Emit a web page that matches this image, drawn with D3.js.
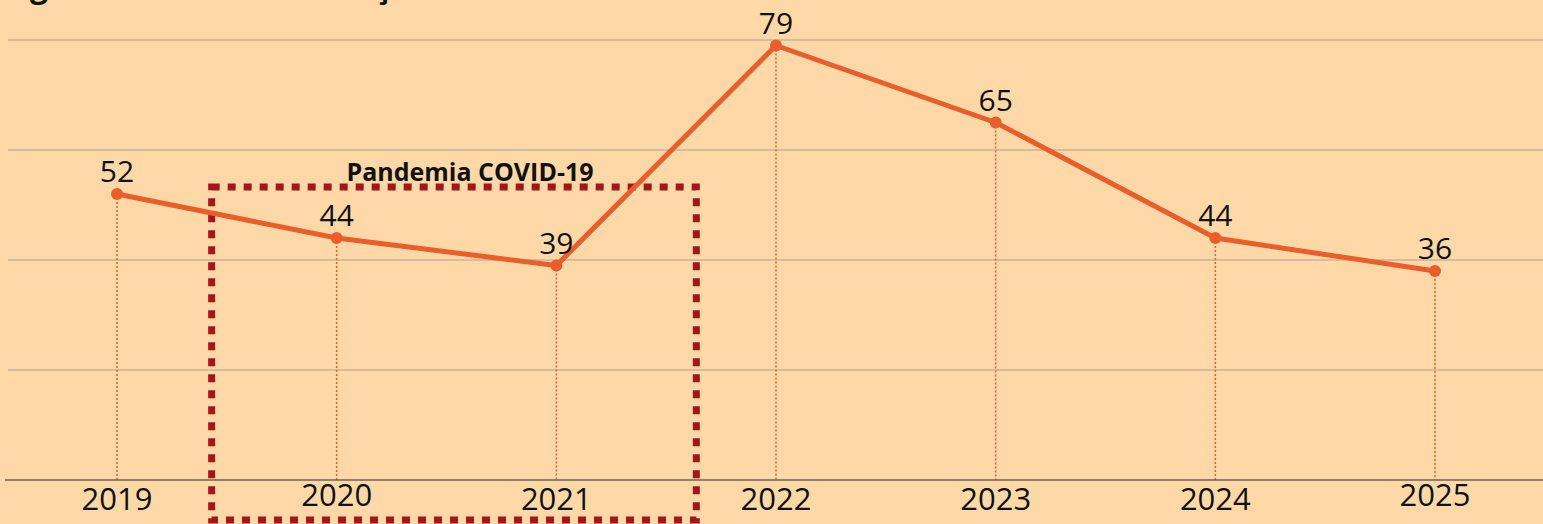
<!DOCTYPE html>
<html>
<head>
<meta charset="utf-8">
<script src="https://cdn.jsdelivr.net/npm/d3@7"></script>
<style>
  html, body { margin: 0; padding: 0; background: #fed9a7; overflow: hidden; }
  svg { display: block; }
</style>
</head>
<body>
<svg id="chart" width="1543" height="524"></svg>
<script>
// Data
const years = ['2019', '2020', '2021', '2022', '2023', '2024', '2025'];
const values = [52, 44, 39, 79, 65, 44, 38];          // plotted position
const valueLabels = ['52', '44', '39', '79', '65', '44', '36']; // as printed
const yTicks = [0, 20, 40, 60, 80];
const highlightYears = ['2020', '2021'];
const highlightLabel = 'Pandemia COVID-19';
const title = 'Agressões totais: evolução anual';

const W = 1543, H = 524;
const FONT = '"Open Sans", "Noto Sans", sans-serif';
const LINE = '#eb5e2b';
const BOX = '#a3161a';

const svg = d3.select('#chart');

svg.append('rect').attr('width', W).attr('height', H).attr('fill', '#fed9a7');

const x = d3.scalePoint().domain(years).range([117, 1435]);
const y = d3.scaleLinear().domain([0, 80]).range([480, 40]);

// Title (mostly cut off by the top edge)
svg.append('text')
    .attr('x', 8).attr('y', -3)
    .attr('font-family', FONT).attr('font-weight', 700).attr('font-size', 32)
    .attr('fill', '#111')
    .text(title);

// Gridlines
svg.append('g').selectAll('line')
    .data(yTicks.filter(d => d !== 0))
    .join('line')
    .attr('x1', 8).attr('x2', W)
    .attr('y1', d => y(d)).attr('y2', d => y(d))
    .attr('stroke', '#ad9f8a').attr('stroke-width', 1.2);

// Drop lines
svg.append('g').selectAll('line')
    .data(years)
    .join('line')
    .attr('x1', d => x(d)).attr('x2', d => x(d))
    .attr('y1', (d, i) => y(values[i])).attr('y2', y(0))
    .attr('stroke', LINE).attr('stroke-width', 1.5)
    .attr('stroke-dasharray', '2,2');

// Baseline
svg.append('line')
    .attr('x1', 5).attr('x2', W)
    .attr('y1', y(0)).attr('y2', y(0))
    .attr('stroke', '#6b6354').attr('stroke-width', 1.5);

// Year labels (a couple sit slightly higher in the original)
const yearNudge = { '2020': -4, '2025': -4 };
svg.append('g').selectAll('text')
    .data(years)
    .join('text')
    .attr('x', d => x(d))
    .attr('y', d => y(0) + 30 + (yearNudge[d] || 0))
    .attr('text-anchor', 'middle')
    .attr('font-family', FONT).attr('font-size', 31)
    .attr('fill', '#111')
    .text(d => d);

// Highlight box
const bx0 = x(highlightYears[0]) - 125;
const bx1 = x(highlightYears[1]) + 140;
svg.append('rect')
    .attr('x', bx0).attr('y', 187)
    .attr('width', bx1 - bx0).attr('height', 333)
    .attr('fill', 'none')
    .attr('stroke', BOX).attr('stroke-width', 7)
    .attr('stroke-dasharray', '8,8');

svg.append('text')
    .attr('x', (bx0 + bx1) / 2 + 16).attr('y', 181)
    .attr('text-anchor', 'middle')
    .attr('font-family', FONT).attr('font-weight', 700).attr('font-size', 25)
    .attr('fill', '#111')
    .text(highlightLabel);

// Line
const line = d3.line().x((d, i) => x(years[i])).y(d => y(d));
svg.append('path')
    .datum(values)
    .attr('d', line)
    .attr('fill', 'none')
    .attr('stroke', LINE).attr('stroke-width', 5)
    .attr('stroke-linejoin', 'round');

// Points
svg.append('g').selectAll('circle')
    .data(values)
    .join('circle')
    .attr('cx', (d, i) => x(years[i]))
    .attr('cy', d => y(d))
    .attr('r', 6)
    .attr('fill', LINE);

// Value labels
svg.append('g').selectAll('text')
    .data(values)
    .join('text')
    .attr('x', (d, i) => x(years[i]))
    .attr('y', d => y(d) - 12)
    .attr('text-anchor', 'middle')
    .attr('font-family', FONT).attr('font-size', 30)
    .attr('fill', '#111')
    .text((d, i) => valueLabels[i]);
</script>
</body>
</html>
